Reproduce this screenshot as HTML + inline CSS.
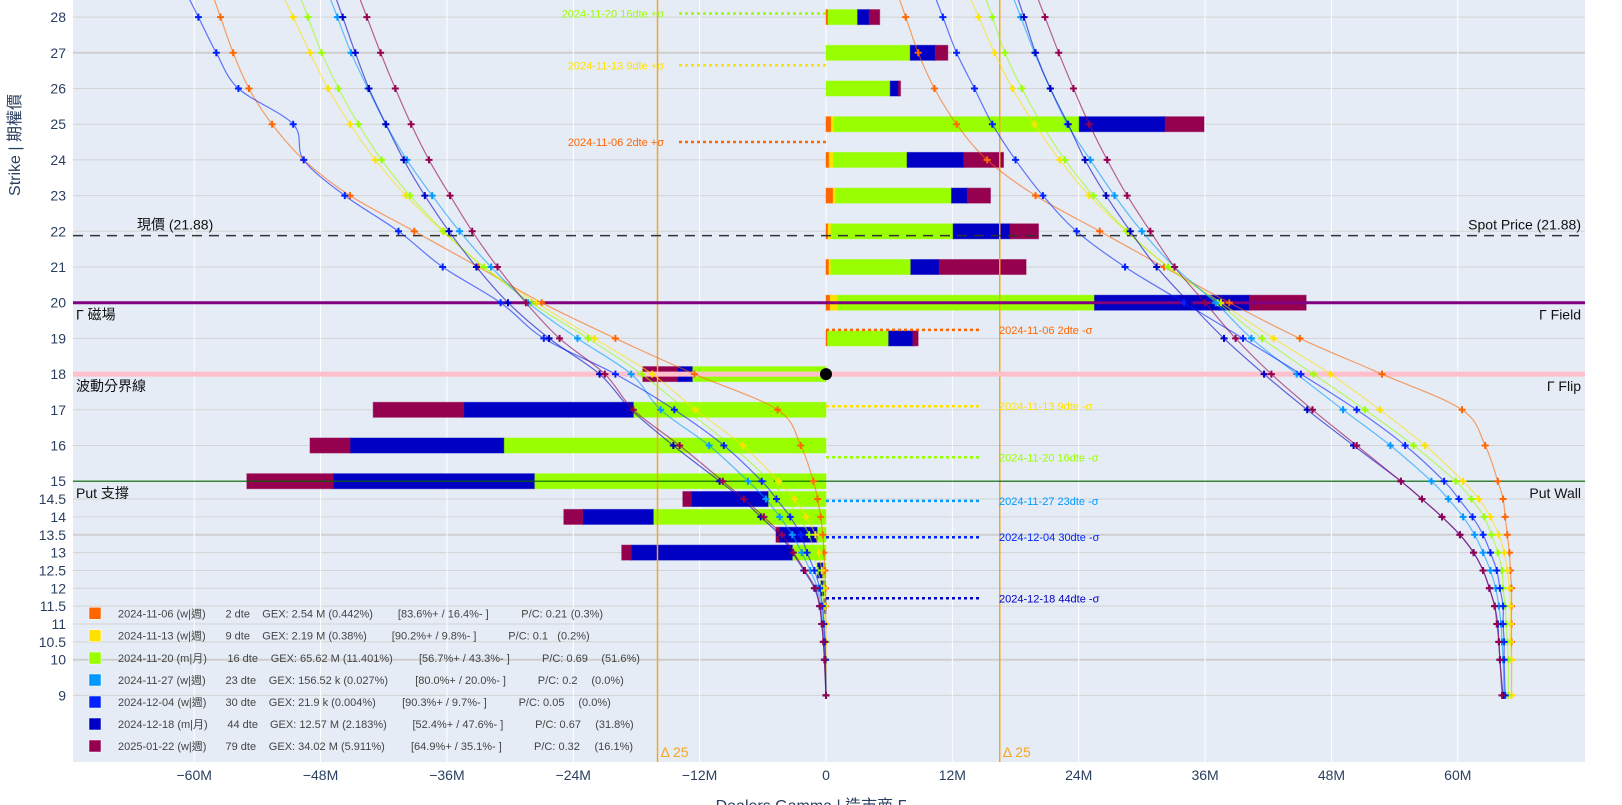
<!DOCTYPE html>
<html><head><meta charset="utf-8"><style>
html,body{margin:0;padding:0;background:#fff;}
svg{display:block;font-family:"Liberation Sans","Noto Sans CJK TC",sans-serif;}
</style></head><body>
<svg id="chart" width="1622" height="805" viewBox="0 0 1622 805" xmlns="http://www.w3.org/2000/svg">
<rect x="73" y="0" width="1512" height="762" fill="#e5ecf6"/>
<g id="grid"></g>
<g id="bars"></g>
<g id="overlays"></g>
<g id="curves"></g>
<g id="axes"></g>
<g id="legend"></g>
</svg>
<script>
const strikes=[28,27,26,25,24,23,22,21,20,19,18,17,16,15,14.5,14,13.5,13,12.5,12,11.5,11,10.5,10,9];
const seriesNames=["2024-11-06","2024-11-13","2024-11-20","2024-11-27","2024-12-04","2024-12-18","2025-01-22"];
const seriesColors=["#ff6600","#ffe100","#99ff00","#0099ff","#0022ff","#0000c4","#95004f"];
// bars (M) per series, indexed by strikes
const barOrange=[0.2,0,0,0.5,0.3,0.68,0.2,0.28,0.4,0.15,0,0,0,0,0,0,0,0,0,0,0,0,0,0,0];
const barYellow=[0,0,0,0.25,0.4,0.24,0.28,0.17,0.7,0,0,0,0,0,0,0,0,0,0,0,0,0,0,0,0];
const barGreen=[2.8,8.0,6.1,23.3,7.0,11.0,11.6,7.6,24.4,5.8,-12.7,-18.3,-30.6,-27.7,-5.5,-16.4,-0.85,-3.2,-0.3,-0.2,0,0,0,0,0];
const barLightBlue=[0,0,0,0,0,0,0,0,0,0,0,0,0,0,0,0,0,0,0,0,0,0,0,0,0];
const barBlue=[0,0,0,0,0,0,0,0,0,0,0,0,0,0,0,0,0,0,0,0,0,0,0,0,0];
const barDarkBlue=[1.1,2.37,0.78,8.15,5.36,1.5,5.4,2.7,14.7,2.3,-1.4,-16.1,-14.6,-19.1,-7.3,-6.7,-3.6,-15.3,-0.5,-0.3,-0.2,0,0,0,0];
const barPurple=[1.0,1.2,0.2,3.7,3.8,2.2,2.7,8.25,5.4,0.5,-3.3,-8.6,-3.8,-8.2,-0.8,-1.8,-0.3,-0.9,0,0,0,0,0,0,0];
// cumulative curves, left (put) side
const leftOrange=[-57.5,-56.3,-54.8,-52.6,-49.6,-45.2,-39.1,-33.0,-27.0,-20.0,-12.5,-4.6,-2.4,-1.2,-0.8,-0.5,-0.3,-0.2,-0.1,-0.05,-0.03,-0.02,-0.01,0,0];
const leftYellow=[-50.6,-49.0,-47.3,-45.2,-42.8,-39.9,-36.4,-32.5,-27.5,-22.0,-16.5,-12.4,-7.9,-4.5,-3.0,-1.9,-1.0,-0.7,-0.4,-0.2,-0.1,-0.05,-0.03,-0.01,0];
const leftGreen=[-49.2,-47.9,-46.3,-44.4,-42.2,-39.5,-36.3,-32.5,-28.0,-22.6,-17.5,-13.3,-9.0,-5.3,-3.8,-2.6,-1.6,-1.2,-0.8,-0.4,-0.25,-0.15,-0.08,-0.04,0];
const leftLightBlue=[-46.4,-45.1,-43.5,-41.8,-39.8,-37.4,-34.8,-31.8,-28.3,-23.6,-18.5,-15.7,-11.1,-7.4,-5.7,-4.4,-3.2,-2.3,-1.5,-0.8,-0.5,-0.3,-0.15,-0.08,0];
const leftBlue=[-59.6,-57.9,-55.8,-50.6,-49.6,-45.7,-40.6,-36.4,-30.9,-26.8,-20.0,-14.4,-9.7,-6.1,-4.7,-3.4,-2.4,-1.8,-1.1,-0.6,-0.35,-0.2,-0.1,-0.05,0];
const leftDarkBlue=[-45.9,-44.7,-43.4,-41.8,-40.1,-38.1,-35.8,-33.2,-30.2,-26.3,-21.5,-18.5,-14.5,-10.1,-8.0,-6.2,-4.4,-3.2,-2.1,-1.1,-0.6,-0.4,-0.25,-0.15,0];
const leftPurple=[-43.6,-42.3,-40.9,-39.4,-37.7,-35.7,-33.6,-31.2,-28.5,-25.3,-21.0,-18.3,-13.9,-9.8,-7.8,-5.9,-4.2,-3.1,-2.0,-1.0,-0.6,-0.4,-0.25,-0.15,0];
// cumulative curves, right (call) side
const rightOrange=[7.57,8.76,10.3,12.4,15.3,19.9,26.0,32.1,38.3,45.0,52.8,60.4,62.6,63.8,64.3,64.5,64.7,64.9,65.0,65.1,65.1,65.1,65.1,65.1,65.1];
const rightYellow=[14.5,16.0,17.7,19.8,22.2,25.0,28.5,32.5,37.5,42.5,47.9,52.6,56.9,60.5,62.0,63.1,63.9,64.4,64.7,64.9,65.0,65.0,65.0,65.1,65.1];
const rightGreen=[15.8,17.0,18.6,20.5,22.7,25.4,28.6,32.5,37.2,41.4,46.3,51.2,55.8,59.8,61.3,62.5,63.2,63.8,64.2,64.3,64.5,64.6,64.7,64.8,64.8];
const rightLightBlue=[18.5,19.8,21.3,22.9,25.1,27.4,30.0,33.1,37.0,40.4,44.7,49.1,53.6,57.5,59.1,60.5,61.6,62.4,63.1,63.6,63.9,64.1,64.2,64.3,64.4];
const rightBlue=[11.1,12.4,14.1,15.8,18.0,20.6,23.8,28.4,34.0,39.6,45.1,50.4,55.0,58.7,60.1,61.4,62.4,63.1,63.7,64.0,64.3,64.3,64.4,64.4,64.5];
const rightDarkBlue=[18.8,19.9,21.3,23.0,24.6,26.6,28.9,31.4,34.5,37.8,41.6,45.7,50.1,54.6,56.6,58.5,60.2,61.5,62.4,63.0,63.5,63.8,63.9,64.0,64.3];
const rightPurple=[20.8,22.1,23.5,25.0,26.7,28.6,30.8,33.1,36.0,38.9,42.3,46.2,50.4,54.6,56.6,58.5,60.2,61.5,62.4,63.0,63.5,63.7,63.9,64.0,64.2];
const xTicks=[-60,-48,-36,-24,-12,0,12,24,36,48,60];
const xTickLabels=["\u221260M","\u221248M","\u221236M","\u221224M","\u221212M","0","12M","24M","36M","48M","60M"];
const yTickLabels=["28","27","26","25","24","23","22","21","20","19","18","17","16","15","14.5","14","13.5","13","12.5","12","11.5","11","10.5","10","9"];
const spotPrice=21.88, gammaField=20, gammaFlip=18, putWall=15;
const delta25=[-16.0,16.5];
const sigmaPlusStrikes=[28.1,26.65,24.5];
const sigmaPlusLabels=["2024-11-20 16dte +σ","2024-11-13 9dte +σ","2024-11-06 2dte +σ"];
const sigmaPlusColor=[2,1,0];
const sigmaMinusStrikes=[19.24,17.1,15.67,14.45,13.43,11.72];
const sigmaMinusLabels=["2024-11-06 2dte -σ","2024-11-13 9dte -σ","2024-11-20 16dte -σ","2024-11-27 23dte -σ","2024-12-04 30dte -σ","2024-12-18 44dte -σ"];
const sigmaMinusColor=[0,1,2,3,4,5];
const legendTexts=[
["2024-11-06 (w|週)","2 dte","GEX: 2.54 M (0.442%)","[83.6%+ / 16.4%- ]","P/C: 0.21","(0.3%)"],
["2024-11-13 (w|週)","9 dte","GEX: 2.19 M (0.38%)","[90.2%+ / 9.8%- ]","P/C: 0.1","(0.2%)"],
["2024-11-20 (m|月)","16 dte","GEX: 65.62 M (11.401%)","[56.7%+ / 43.3%- ]","P/C: 0.69","(51.6%)"],
["2024-11-27 (w|週)","23 dte","GEX: 156.52 k (0.027%)","[80.0%+ / 20.0%- ]","P/C: 0.2","(0.0%)"],
["2024-12-04 (w|週)","30 dte","GEX: 21.9 k (0.004%)","[90.3%+ / 9.7%- ]","P/C: 0.05","(0.0%)"],
["2024-12-18 (m|月)","44 dte","GEX: 12.57 M (2.183%)","[52.4%+ / 47.6%- ]","P/C: 0.67","(31.8%)"],
["2025-01-22 (w|週)","79 dte","GEX: 34.02 M (5.911%)","[64.9%+ / 35.1%- ]","P/C: 0.32","(16.1%)"]];
const legendColX=[
[118,225.5,262.3,397.9,521.3,570.7],[118,225.5,262.3,391.8,508.3,557.3],[118,227.4,270.7,419,542,601.4],
[118,225.5,268.8,415.2,537.8,591.4],[118,225.5,268.8,402.1,518.6,578.4],[118,227.4,270,412.5,535.1,595.2],[118,225.5,268.8,411,534,594.5]];

const NS="http://www.w3.org/2000/svg";
const X0=826,XS=10.53,PL=73,PR=1585,PB=762;
function xs(m){return X0+m*XS;}
function ys(s){return 302.7-(s-20)*35.7;}
function mk(tag,attrs,parent){const e=document.createElementNS(NS,tag);for(const k in attrs)e.setAttribute(k,attrs[k]);parent.appendChild(e);return e;}
const grid=document.getElementById('grid'),bars=document.getElementById('bars'),ov=document.getElementById('overlays'),cv=document.getElementById('curves'),ax=document.getElementById('axes'),lg=document.getElementById('legend');

// grid
strikes.forEach((s,i)=>{const thick=(s===27||s===13.5||s===10);
 const l=mk('line',{x1:PL,x2:PR,y1:ys(s),y2:ys(s),stroke:thick?'#cfcfcf':'#d3d3d3','stroke-width':thick?2:1},grid);
 
 
 const t=mk('text',{x:66,y:ys(s)+5,'text-anchor':'end','font-size':14,fill:'#2a3f5f'},ax);t.textContent=yTickLabels[i];
 
 
});
xTicks.forEach((m,i)=>{
 const l=mk('line',{x1:xs(m),x2:xs(m),y1:0,y2:PB,stroke:'#fff','stroke-width':1},grid);
 
 
 const t=mk('text',{x:xs(m),y:780,'text-anchor':'middle','font-size':14,fill:'#2a3f5f'},ax);t.textContent=xTickLabels[i];
 
 
});

// bars
const barSeries=[barOrange,barYellow,barGreen,barLightBlue,barBlue,barDarkBlue,barPurple];
strikes.forEach((s,i)=>{let pos=0,neg=0;const h=15;
 barSeries.forEach((arr,k)=>{const v=arr[i];if(!v)return;let a,b;
  if(v>0){a=pos;b=pos+v;pos=b;}else{a=neg;b=neg+v;neg=b;}
  const x1=Math.min(xs(a),xs(b)),w=Math.abs(xs(b)-xs(a));
  const r=mk('rect',{x:x1,y:ys(s)-h/2,width:w,height:h,fill:seriesColors[k],stroke:seriesColors[k],'stroke-opacity':0.5,'stroke-width':1},bars);
  
  
 });
});

// overlays: vertical delta lines
delta25.forEach(m=>{
 const l=mk('line',{x1:xs(m),x2:xs(m),y1:0,y2:PB,stroke:'#f5a623','stroke-width':1.5},ov);
 
 
 const t=mk('text',{x:xs(m)+3,y:757,'font-size':14,fill:'#f5a623'},ov);t.textContent='Δ 25';
 
 
});
function hline(s,color,w,dash,name){const l=mk('line',{x1:PL,x2:PR,y1:ys(s),y2:ys(s),stroke:color,'stroke-width':w},ov);if(dash)l.setAttribute('stroke-dasharray',dash);
 
 }
hline(gammaFlip,'#ffc0cb',5,null,'gamma-flip-line');
hline(putWall,'#006400',1.2,null,'put-wall-line');
hline(gammaField,'#800080',3,null,'gamma-field-line');
hline(spotPrice,'#333',1.5,'10,7','spot-price-line');
function lbl(x,y,txt,anchor,name){const t=mk('text',{x:x,y:y,'text-anchor':anchor,'font-size':14,fill:'#111'},ov);t.textContent=txt;
 
 }
lbl(137,ys(spotPrice)-6,'現價 (21.88)','start','spot-label-zh');
lbl(1581,ys(spotPrice)-6,'Spot Price (21.88)','end','spot-label-en');
lbl(76,ys(gammaField)+17,'Γ 磁場','start','gamma-field-label-zh');
lbl(1581,ys(gammaField)+17,'Γ Field','end','gamma-field-label-en');
lbl(76,ys(gammaFlip)+17,'波動分界線','start','gamma-flip-label-zh');
lbl(1581,ys(gammaFlip)+17,'Γ Flip','end','gamma-flip-label-en');
lbl(76,ys(putWall)+17,'Put 支撐','start','put-wall-label-zh');
lbl(1581,ys(putWall)+17,'Put Wall','end','put-wall-label-en');
// sigma markers
sigmaPlusStrikes.forEach((s,i)=>{const c=seriesColors[sigmaPlusColor[i]];
 const l=mk('line',{x1:679,x2:826,y1:ys(s),y2:ys(s),stroke:c,'stroke-width':2.5,'stroke-dasharray':'3,3'},ov);
 
 
 const t=mk('text',{x:664,y:ys(s)+4,'text-anchor':'end','font-size':11,fill:c},ov);t.textContent=sigmaPlusLabels[i];
 
 
});
sigmaMinusStrikes.forEach((s,i)=>{const c=seriesColors[sigmaMinusColor[i]];
 const l=mk('line',{x1:826,x2:980,y1:ys(s),y2:ys(s),stroke:c,'stroke-width':2.5,'stroke-dasharray':'3,3'},ov);
 
 
 const t=mk('text',{x:999,y:ys(s)+4,'font-size':11,fill:c},ov);t.textContent=sigmaMinusLabels[i];
 
 
});
const dot=mk('circle',{cx:xs(0),cy:ys(gammaFlip),r:6,fill:'#000'},ov);



// curves
const leftSeries=[leftOrange,leftYellow,leftGreen,leftLightBlue,leftBlue,leftDarkBlue,leftPurple];
const rightSeries=[rightOrange,rightYellow,rightGreen,rightLightBlue,rightBlue,rightDarkBlue,rightPurple];
function smooth(pts){let d='M'+pts[0][0]+','+pts[0][1];
 for(let i=0;i<pts.length-1;i++){const p0=pts[Math.max(0,i-1)],p1=pts[i],p2=pts[i+1],p3=pts[Math.min(pts.length-1,i+2)];
  const c1=[p1[0]+(p2[0]-p0[0])/6,p1[1]+(p2[1]-p0[1])/6],c2=[p2[0]-(p3[0]-p1[0])/6,p2[1]-(p3[1]-p1[1])/6];
  d+=' C'+c1[0].toFixed(1)+','+c1[1].toFixed(1)+' '+c2[0].toFixed(1)+','+c2[1].toFixed(1)+' '+p2[0].toFixed(1)+','+p2[1].toFixed(1);}
 return d;}
function drawCurve(arr,k,side){const c=seriesColors[k];
 const pts=strikes.map((s,i)=>[xs(arr[i]),ys(s)]);
 const ext=[[pts[0][0]+(pts[0][0]-pts[1][0])*0.8,ys(28.8)],...pts];
 const p=mk('path',{d:smooth(ext),fill:'none',stroke:c,'stroke-width':1.2,'stroke-opacity':0.6},cv);
 
 
 pts.forEach(q=>{const m=mk('path',{d:'M'+(q[0]-3.5)+','+q[1]+'h7M'+q[0]+','+(q[1]-3.5)+'v7',stroke:c,'stroke-width':2},cv);
  
  });
}
leftSeries.forEach((a,k)=>drawCurve(a,k,'left'));
rightSeries.forEach((a,k)=>drawCurve(a,k,'right'));

// axis titles
const yt=mk('text',{x:0,y:0,transform:'translate(20,145) rotate(-90)','text-anchor':'middle','font-size':16,fill:'#2a3f5f'},ax);yt.textContent='Strike | 期權價';


const xt=mk('text',{x:811,y:811,'text-anchor':'middle','font-size':16,fill:'#2a3f5f'},ax);xt.textContent='Dealers Gamma | 造市商 Γ';



// legend
const legendY=[613.3,635.7,658,680,702,724,746];
legendTexts.forEach((row,r)=>{const y=legendY[r];
 const sq=mk('rect',{x:89,y:y-6,width:12,height:12,fill:seriesColors[r],stroke:'#fff','stroke-width':0.5},lg);
 
 
 row.forEach((txt,c)=>{const t=mk('text',{x:legendColX[r][c],y:y+4,'font-size':11,fill:'#444'},lg);t.textContent=txt;
  
  });
});
</script>
</body></html>
